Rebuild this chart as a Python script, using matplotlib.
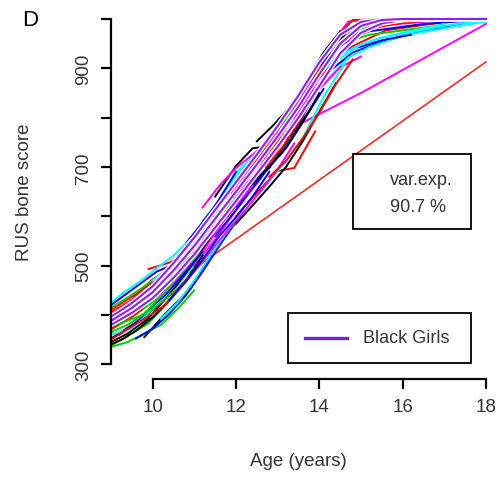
import matplotlib
matplotlib.use("Agg")
import matplotlib.pyplot as plt
from matplotlib.patches import Rectangle

plt.rcParams["font.family"] = ["Liberation Sans", "DejaVu Sans"]

# individual growth curves (age, RUS score)
curve_ages = [
    [9.0, 9.4, 9.8, 10.3, 10.8],
    [9.0, 9.5, 10.0, 10.6, 11.2],
    [9.0, 9.3, 9.9, 10.4, 11.0, 11.5],
    [9.0, 9.6, 10.1, 10.5],
    [9.0, 9.5, 10.0, 10.5, 11.0],
    [9.0, 9.4, 9.9, 10.4],
    [9.8, 10.3, 10.9, 11.4, 12.0],
    [9.9, 10.4, 10.9, 11.5],
    [9.0, 9.5, 10.2, 10.8, 11.4, 12.0],
    [9.0, 9.7, 10.3, 10.9, 11.6],
    [10.5, 11.0, 11.5, 12.0, 12.5, 13.0],
    [11.0, 11.5, 12.0, 12.6, 13.2, 13.8],
    [11.5, 12.0, 12.4, 12.9, 13.3],
    [12.0, 12.5, 13.0, 13.4, 13.9],
    [11.2, 11.8, 12.3, 12.8, 13.4, 14.0],
    [12.0, 12.5, 13.0, 13.5, 14.0, 14.5],
    [10.8, 11.3, 11.9, 12.5, 13.0],
    [12.5, 13.0, 13.5, 14.0, 14.4, 14.7, 15.5, 16.5, 18.0],
    [11.8, 12.3, 12.8, 13.3, 13.8],
    [12.3, 12.8, 13.3, 13.8, 14.3, 14.8, 16.0, 18.0],
    [13.5, 13.8, 14.1, 14.4, 14.8, 15.2, 16.0, 17.0, 18.0],
    [13.8, 14.3, 14.8, 15.3, 16.0, 17.0, 18.0],
    [13.2, 13.7, 14.2, 14.7, 15.2, 16.0, 17.0, 18.0],
    [13.6, 15.0, 16.5, 18.0],
    [13.0, 13.6, 14.1, 14.6, 15.0, 16.0, 17.0, 18.0],
    [14.0, 14.5, 15.0, 15.6, 16.5, 17.5, 18.0],
    [13.8, 14.2, 14.6, 15.2, 16.0, 17.0],
    [14.2, 14.6, 15.0, 15.5, 16.2],
    [14.5, 15.0, 15.5, 16.0, 17.0, 18.0],
    [13.4, 14.0, 14.5, 15.0],
    [9.0, 9.4, 9.9, 10.5, 11.1, 11.7],
    [9.0, 9.6, 10.2, 10.7, 11.3],
    [10.2, 10.7, 11.2, 11.8, 12.4, 13.0],
    [11.5, 12.0, 12.6, 13.1, 13.6, 14.1],
    [12.6, 13.1, 13.6, 14.1, 14.6],
    [10.0, 10.6, 11.2, 11.8, 12.4],
    [9.0, 9.3, 9.6, 10.0, 10.4, 10.8, 11.2],
    [9.0, 9.4, 9.7, 10.1, 10.6, 11.0],
    [9.0, 9.3, 9.7, 10.2, 10.6, 11.1, 11.6],
    [9.2, 9.6, 10.0, 10.3, 10.7, 11.2],
    [9.0, 9.5, 9.9, 10.4, 10.9, 11.3, 11.8, 12.3],
    [9.5, 9.9, 10.3, 10.8, 11.3, 11.9],
    [9.0, 9.4, 9.8, 10.2, 10.7],
    [9.0, 9.3, 9.8, 10.3, 10.7, 11.1],
    [10.5, 10.9, 11.3, 11.7, 12.1, 12.6, 13.0],
    [10.8, 11.2, 11.6, 12.0, 12.4, 12.8, 13.2, 13.6],
    [11.0, 11.4, 11.8, 12.3, 12.7, 13.1],
    [11.3, 11.7, 12.1, 12.5, 12.9, 13.3, 13.7, 14.1],
    [11.6, 12.0, 12.5, 12.9, 13.3, 13.7],
    [12.2, 12.6, 13.0, 13.4, 13.8, 14.2, 14.6],
    [12.8, 13.2, 13.6, 14.0, 14.4, 14.8, 15.2],
    [13.0, 13.4, 13.8, 14.2, 14.6, 15.0, 15.5, 16.0],
    [10.0, 10.4, 10.8, 11.2, 11.6, 12.0, 12.4],
    [10.3, 10.7, 11.1, 11.5, 11.9, 12.3],
    [11.9, 12.3, 12.7, 13.1, 13.5, 13.9, 14.3],
    [12.4, 12.8, 13.2, 13.6, 14.0, 14.4],
    [13.3, 13.7, 14.1, 14.5, 14.9, 15.4, 16.0, 17.0, 18.0],
    [14.0, 14.4, 14.8, 15.2, 15.8, 16.5, 17.5, 18.0],
    [13.6, 14.0, 14.4, 14.9, 15.4, 16.0, 17.0],
    [14.3, 14.7, 15.1, 15.6, 16.2, 17.0, 18.0],
    [12.0, 12.4, 12.8, 13.2, 13.6, 14.0],
    [12.7, 13.1, 13.5, 13.9, 14.3, 14.7],
    [9.0, 9.4, 9.8, 10.2, 10.6, 11.0, 11.4],
    [9.6, 10.0, 10.4, 10.8, 11.2, 11.6, 12.0],
    [10.6, 11.0, 11.4, 11.8, 12.2, 12.6],
    [11.4, 11.8, 12.2, 12.6, 13.0, 13.4, 13.8],
    [13.1, 13.5, 13.9, 14.3, 14.7, 15.1],
    [14.6, 15.0, 15.5, 16.0, 16.5, 17.0, 17.5],
    [9.0, 9.4, 9.8, 10.2, 10.6, 11.0],
    [9.6, 10.0, 10.4, 10.8, 11.2, 11.6, 12.0],
    [10.2, 10.6, 11.0, 11.4, 11.8, 12.2],
    [11.0, 11.4, 11.8, 12.2, 12.6, 13.0, 13.4],
    [12.0, 12.4, 12.8, 13.2, 13.6, 14.0, 14.4],
    [12.8, 13.2, 13.6, 14.0, 14.4, 14.8],
    [9.0, 9.3, 9.7, 10.1, 10.5],
    [10.4, 10.8, 11.2, 11.6, 12.0, 12.4, 12.8],
    [9.0, 9.3, 9.7, 10.1, 10.5, 10.9],
    [11.2, 11.6, 12.0, 12.4, 12.8, 13.2],
    [12.5, 12.9, 13.3, 13.7, 14.1, 14.5],
]
curve_scores = [
    [352, 374, 396, 432, 468],
    [405, 430, 472, 503, 562],
    [338, 352, 383, 428, 488, 548],
    [420, 457, 488, 502],
    [360, 373, 412, 448, 502],
    [395, 418, 437, 472],
    [355, 402, 452, 522, 588],
    [493, 506, 532, 573],
    [370, 396, 438, 492, 558, 627],
    [385, 416, 467, 518, 587],
    [520, 562, 618, 688, 728, 772],
    [500, 553, 612, 678, 762, 838],
    [640, 702, 738, 743, 762],
    [600, 648, 692, 698, 772],
    [590, 652, 698, 747, 808, 882],
    [620, 668, 722, 788, 862, 928],
    [530, 582, 638, 702, 738],
    [690, 762, 828, 902, 962, 995, 1000, 1000, 1000],
    [600, 657, 698, 762, 818],
    [700, 758, 822, 888, 952, 998, 1000, 1000],
    [800, 855, 905, 940, 975, 995, 1000, 1000, 1000],
    [840, 898, 932, 948, 966, 984, 1000],
    [770, 832, 878, 922, 943, 966, 981, 995],
    [790, 850, 920, 990],
    [740, 822, 898, 962, 990, 1000, 1000, 1000],
    [880, 932, 953, 977, 988, 998, 1000],
    [870, 918, 952, 968, 977, 988],
    [900, 936, 944, 957, 968],
    [920, 948, 962, 970, 986, 998],
    [800, 858, 902, 924],
    [345, 362, 393, 452, 518, 602],
    [410, 442, 478, 522, 573],
    [455, 497, 543, 617, 678, 742],
    [560, 613, 682, 728, 792, 858],
    [650, 702, 758, 842, 908],
    [430, 472, 528, 602, 662],
    [340, 352, 368, 395, 430, 470, 520],
    [372, 390, 408, 445, 485, 528],
    [415, 430, 452, 482, 512, 560, 612],
    [360, 385, 418, 440, 478, 528],
    [382, 402, 425, 462, 510, 552, 610, 662],
    [405, 438, 470, 505, 552, 618],
    [398, 410, 432, 468, 500],
    [350, 366, 392, 420, 462, 498],
    [470, 512, 555, 598, 642, 700, 748],
    [545, 588, 632, 668, 705, 742, 790, 842],
    [560, 602, 655, 712, 742, 768],
    [565, 615, 652, 690, 728, 782, 838, 895],
    [625, 668, 728, 760, 800, 858],
    [668, 712, 752, 808, 862, 922, 968],
    [745, 798, 848, 905, 952, 985, 1000],
    [768, 812, 862, 918, 958, 982, 995, 1000],
    [470, 495, 532, 575, 628, 680, 722],
    [452, 488, 538, 592, 645, 690],
    [648, 700, 735, 772, 822, 878, 928],
    [705, 748, 788, 838, 898, 948],
    [815, 868, 918, 955, 978, 990, 997, 1000, 1000],
    [905, 940, 962, 975, 982, 990, 996, 1000],
    [838, 885, 922, 945, 960, 972, 990],
    [932, 958, 978, 988, 992, 998, 1000],
    [632, 668, 702, 738, 790, 850],
    [700, 738, 790, 850, 908, 952],
    [365, 380, 402, 438, 478, 522, 575],
    [430, 462, 492, 532, 582, 635, 690],
    [508, 548, 598, 648, 698, 738],
    [598, 642, 680, 718, 762, 818, 872],
    [790, 845, 898, 945, 975, 995],
    [958, 975, 985, 992, 996, 1000, 1000],
    [335, 345, 362, 380, 412, 450],
    [352, 372, 402, 440, 488, 540, 590],
    [392, 425, 470, 522, 570, 612],
    [488, 530, 572, 610, 652, 695, 748],
    [585, 622, 660, 700, 752, 812, 870],
    [680, 712, 758, 810, 868, 918],
    [378, 385, 398, 418, 448],
    [430, 468, 512, 560, 598, 640, 690],
    [425, 445, 468, 495, 520, 552],
    [618, 662, 698, 725, 752, 792],
    [752, 785, 822, 875, 932, 975],
]
palette = ["black", "red", "#00CD00", "blue", "cyan", "magenta"]

# fitted curves
fit_ages = [9, 9.5, 10, 10.5, 11, 11.5, 12, 12.5, 13, 13.5, 14, 14.5, 15, 15.5,
            16, 16.5, 17, 17.5, 18]
fit_mid = [388, 414, 446, 490, 540, 595, 650, 705, 762, 822, 888, 950, 986,
           998, 1000, 1000, 1000, 1000, 1000]
fit_early = [396, 424, 458, 505, 557, 613, 669, 725, 783, 845, 912, 968, 994,
             1000, 1000, 1000, 1000, 1000, 1000]
fit_late = [380, 404, 434, 475, 523, 577, 631, 686, 741, 800, 864, 930, 972,
            991, 998, 1000, 1000, 1000, 1000]

# linear fit
lin_ages = [9, 18]
lin_scores = [374, 913]

W, H = 499, 481
fig = plt.figure(figsize=(W / 100, H / 100), dpi=100)


def fx(px):
    return px / W


def fy(py):
    return 1 - py / H


ax = fig.add_axes([fx(111), fy(380), fx(486) - fx(111), fy(20) - fy(380)])
ax.set_xlim(9, 18)
ax.set_ylim(270, 1000)

ax.plot(lin_ages, lin_scores, color="#E8302A", lw=1.2, clip_on=False)

for i, (a, s) in enumerate(zip(curve_ages, curve_scores)):
    ax.plot(a, s, color=palette[i % 6], lw=1.4, clip_on=False)

for fit in (fit_late, fit_early, fit_mid):
    ax.plot(fit_ages, fit, color="white", lw=3.6, solid_capstyle="round", clip_on=False)
    ax.plot(fit_ages, fit, color="#8E1EEE", lw=1.5, clip_on=False)

for s in ["top", "right"]:
    ax.spines[s].set_visible(False)
ax.spines["left"].set_bounds(300, 1000)
ax.spines["bottom"].set_bounds(10, 18)
for s in ["left", "bottom"]:
    ax.spines[s].set_linewidth(1.6)

ax.set_xticks([10, 12, 14, 16, 18])
ax.set_yticks([300, 400, 500, 600, 700, 800, 900, 1000])
ax.set_yticklabels(["300", "", "500", "", "700", "", "900", ""], rotation=90, va="center")
ax.tick_params(length=7.5, width=1.6, labelsize=13.5, labelcolor="#333333", pad=6)

fig.text(fx(298), fy(462), "Age (years)", ha="center", va="center", fontsize=13.5, color="#333333")
fig.text(fx(25), fy(192), "RUS bone score", ha="center", va="center", rotation=90,
         fontsize=13.5, color="#333333")
fig.text(fx(30), fy(20), "D", ha="center", va="center", fontsize=16, color="black")

# var.exp box
fig.patches.append(Rectangle((fx(353), fy(230)), fx(471) - fx(353), fy(155) - fy(230),
                             transform=fig.transFigure, fill=True, facecolor="white",
                             edgecolor="black", lw=1.3))
fig.text(fx(390), fy(181), "var.exp.", ha="left", va="center", fontsize=13, color="#333333")
fig.text(fx(390), fy(207), "90.7 %", ha="left", va="center", fontsize=13, color="#333333")

# legend box
fig.patches.append(Rectangle((fx(288), fy(364)), fx(471) - fx(288), fy(314) - fy(364),
                             transform=fig.transFigure, fill=True, facecolor="white",
                             edgecolor="black", lw=1.3))
fig.lines.append(plt.Line2D([fx(305), fx(347)], [fy(339), fy(339)], transform=fig.transFigure,
                            color="#7A1FE0", lw=2.4))
fig.text(fx(363), fy(339), "Black Girls", ha="left", va="center", fontsize=13, color="#333333")

fig.savefig("out.png", dpi=100)
